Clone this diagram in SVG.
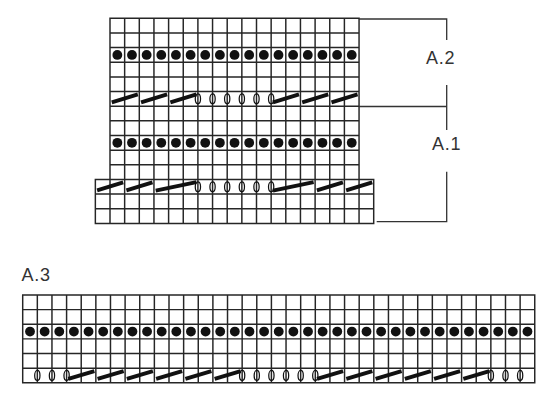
<svg xmlns="http://www.w3.org/2000/svg" width="550" height="404" viewBox="0 0 550 404">
<defs>
<style>
.grid{fill:none;stroke:#262626;stroke-width:0.1;stroke-linecap:square}
.dot{fill:#111}
.sl{stroke:#111;stroke-width:0.27;stroke-linecap:butt;fill:none}
.yo{fill:none;stroke:#111;stroke-width:0.085}
.br{fill:none;stroke:#333;stroke-width:1.3}
.lbl{font-family:"Liberation Sans",Arial,sans-serif;font-size:18px;fill:#333;letter-spacing:0.8px}
</style>
<circle id="d" class="dot" cx="0.5" cy="0.5" r="0.335"/>
<path id="s2" class="sl" d="M0.12 0.74L1.9 0.2"/>
<path id="s3" class="sl" d="M0.12 0.76L2.9 0.18"/>
<ellipse id="o" class="yo" cx="0" cy="0.5" rx="0.18" ry="0.34"/>
</defs>

<g id="chart-a1-a2" transform="translate(110,18.3) scale(14.65)">
<path class="grid" d="M0 0H17M0 1H17M0 2H17M0 3H17M0 4H17M0 5H17M0 6H17M0 7H17M0 8H17M0 9H17M0 10H17M-1 11H18M-1 12H18M-1 13H18M-1 14H18M0 0V14M1 0V14M2 0V14M3 0V14M4 0V14M5 0V14M6 0V14M7 0V14M8 0V14M9 0V14M10 0V14M11 0V14M12 0V14M13 0V14M14 0V14M15 0V14M16 0V14M17 0V14M-1 11V14M18 11V14"/>
<g id="dots-a2">
<use href="#d" x="0" y="2"/><use href="#d" x="1" y="2"/><use href="#d" x="2" y="2"/><use href="#d" x="3" y="2"/><use href="#d" x="4" y="2"/><use href="#d" x="5" y="2"/><use href="#d" x="6" y="2"/><use href="#d" x="7" y="2"/><use href="#d" x="8" y="2"/><use href="#d" x="9" y="2"/><use href="#d" x="10" y="2"/><use href="#d" x="11" y="2"/><use href="#d" x="12" y="2"/><use href="#d" x="13" y="2"/><use href="#d" x="14" y="2"/><use href="#d" x="15" y="2"/><use href="#d" x="16" y="2"/>
</g>
<g id="dec-a2">
<use href="#s2" x="0" y="5"/><use href="#s2" x="2" y="5"/><use href="#s2" x="4" y="5"/>
<use href="#o" x="6" y="5"/><use href="#o" x="7" y="5"/><use href="#o" x="8" y="5"/><use href="#o" x="9" y="5"/><use href="#o" x="10" y="5"/><use href="#o" x="11" y="5"/>
<use href="#s2" x="11" y="5"/><use href="#s2" x="13" y="5"/><use href="#s2" x="15" y="5"/>
</g>
<g id="dots-a1">
<use href="#d" x="0" y="8"/><use href="#d" x="1" y="8"/><use href="#d" x="2" y="8"/><use href="#d" x="3" y="8"/><use href="#d" x="4" y="8"/><use href="#d" x="5" y="8"/><use href="#d" x="6" y="8"/><use href="#d" x="7" y="8"/><use href="#d" x="8" y="8"/><use href="#d" x="9" y="8"/><use href="#d" x="10" y="8"/><use href="#d" x="11" y="8"/><use href="#d" x="12" y="8"/><use href="#d" x="13" y="8"/><use href="#d" x="14" y="8"/><use href="#d" x="15" y="8"/><use href="#d" x="16" y="8"/>
</g>
<g id="dec-a1">
<use href="#s2" x="-1" y="11"/><use href="#s2" x="1" y="11"/><use href="#s3" x="3" y="11"/>
<use href="#o" x="6" y="11"/><use href="#o" x="7" y="11"/><use href="#o" x="8" y="11"/><use href="#o" x="9" y="11"/><use href="#o" x="10" y="11"/><use href="#o" x="11" y="11"/>
<use href="#s3" x="11" y="11"/><use href="#s2" x="14" y="11"/><use href="#s2" x="16" y="11"/>
</g>
</g>

<g id="brackets">
<path class="br" d="M359 19H446.7V40M446.7 85V130M359 106.5H446.7M446.7 171.7V221.7H376.7"/>
</g>
<text id="label-a2" class="lbl" x="426" y="63.5">A.2</text>
<text id="label-a1" class="lbl" x="432" y="149.5">A.1</text>
<text id="label-a3" class="lbl" x="21.5" y="281">A.3</text>

<g id="chart-a3" transform="translate(22.7,295) scale(14.63)">
<path class="grid" d="M0 0H35M0 1H35M0 2H35M0 3H35M0 4H35M0 5H35M0 6H35M0 0V6M1 0V6M2 0V6M3 0V6M4 0V6M5 0V6M6 0V6M7 0V6M8 0V6M9 0V6M10 0V6M11 0V6M12 0V6M13 0V6M14 0V6M15 0V6M16 0V6M17 0V6M18 0V6M19 0V6M20 0V6M21 0V6M22 0V6M23 0V6M24 0V6M25 0V6M26 0V6M27 0V6M28 0V6M29 0V6M30 0V6M31 0V6M32 0V6M33 0V6M34 0V6M35 0V6"/>
<g id="dots-a3">
<use href="#d" x="0" y="2"/><use href="#d" x="1" y="2"/><use href="#d" x="2" y="2"/><use href="#d" x="3" y="2"/><use href="#d" x="4" y="2"/><use href="#d" x="5" y="2"/><use href="#d" x="6" y="2"/><use href="#d" x="7" y="2"/><use href="#d" x="8" y="2"/><use href="#d" x="9" y="2"/><use href="#d" x="10" y="2"/><use href="#d" x="11" y="2"/><use href="#d" x="12" y="2"/><use href="#d" x="13" y="2"/><use href="#d" x="14" y="2"/><use href="#d" x="15" y="2"/><use href="#d" x="16" y="2"/><use href="#d" x="17" y="2"/><use href="#d" x="18" y="2"/><use href="#d" x="19" y="2"/><use href="#d" x="20" y="2"/><use href="#d" x="21" y="2"/><use href="#d" x="22" y="2"/><use href="#d" x="23" y="2"/><use href="#d" x="24" y="2"/><use href="#d" x="25" y="2"/><use href="#d" x="26" y="2"/><use href="#d" x="27" y="2"/><use href="#d" x="28" y="2"/><use href="#d" x="29" y="2"/><use href="#d" x="30" y="2"/><use href="#d" x="31" y="2"/><use href="#d" x="32" y="2"/><use href="#d" x="33" y="2"/><use href="#d" x="34" y="2"/>
</g>
<g id="dec-a3">
<use href="#o" x="1" y="5"/><use href="#o" x="2" y="5"/><use href="#o" x="3" y="5"/>
<use href="#s2" x="3" y="5"/><use href="#s2" x="5" y="5"/><use href="#s2" x="7" y="5"/><use href="#s2" x="9" y="5"/><use href="#s2" x="11" y="5"/><use href="#s2" x="13" y="5"/>
<use href="#o" x="15" y="5"/><use href="#o" x="16" y="5"/><use href="#o" x="17" y="5"/><use href="#o" x="18" y="5"/><use href="#o" x="19" y="5"/><use href="#o" x="20" y="5"/>
<use href="#s2" x="20" y="5"/><use href="#s2" x="22" y="5"/><use href="#s2" x="24" y="5"/><use href="#s2" x="26" y="5"/><use href="#s2" x="28" y="5"/><use href="#s2" x="30" y="5"/>
<use href="#o" x="32" y="5"/><use href="#o" x="33" y="5"/><use href="#o" x="34" y="5"/>
</g>
</g>
</svg>
